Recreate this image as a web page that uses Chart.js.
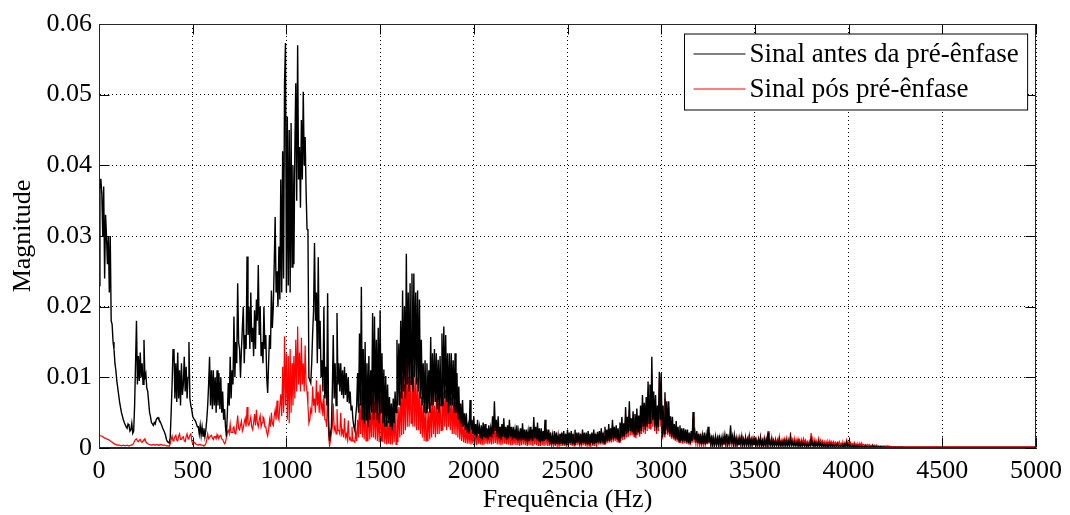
<!DOCTYPE html>
<html>
<head>
<meta charset="utf-8">
<script src="https://cdn.jsdelivr.net/npm/chart.js@4"></script>
<style>
html,body{margin:0;background:#fff}
canvas{display:block}
</style>
</head>
<body>
<canvas id="spectrum" width="1070" height="515"></canvas>
<script>
// spectrum sampled every 5 Hz, magnitudes in units of 1e-3 (one row = 100 Hz)
const STEP_HZ=5

const antesMilli=[
23,38,38,36,30,37,24,33,30,26,30,22,30,18,17.5,15,14,12,11,9.5,
8.5,7.5,6.5,5.7,5,4.5,4,3.6,3.3,3,2.8,3.4,3.2,2.4,2.6,3.5,2.1,2.4,6,12,
18,9,13,9.5,13.5,10,12,9,15.3,10,10.5,8.5,8,6.5,5,4.4,3.6,3.4,3.2,3.6,
3.4,4,4.2,4.3,4,3.8,3.5,3.2,2.8,2.5,2.2,1.8,1.2,0.9,0.8,0.7,1.5,5,9,13.9,
14,7,12,6.5,13.5,7,11,6,12,7.5,9,12.9,8,11.5,7,10,15,7,6,5.4,
4.5,4.2,4,3.8,3.4,3,3,2,3.2,1.8,3,1.7,2.8,1.6,2.5,4,6,9,12.9,6,
11,5.5,11,6,10,5,11,6,10.6,5.5,10,5,8,4,5.5,3,1.6,5,9.2,6,
12.9,7,11,9,18.6,10,15,12,23.3,15,14,10,13.9,17,20,12,16,14,27.1,16,
20,14,22,15,17,13,19.5,14,21,18,25.9,16,20,13,15,12,20,14,16,10,
7.8,12,16,14,22.3,17,20,26,32.7,22,25,20,28.5,21,38,22,42,24,51.6,57.3,
22,46.9,23,45,22,46,25.6,40,26,42,51.6,35,57,38,42.6,34,46.4,38,50.4,40,
44,36.5,31,30.8,10,9.6,9.2,12,16.2,19.5,29,18,22,12,27,14,18,10,12.4,8,
20,7,11.5,6,21.9,4,1,2,3,8,16,7,12,6,19.1,9,12,8,12,7.5,
11,7,11.5,7.5,10.6,6.5,10,6.3,8,5.4,6,4,3,2.5,4.5,6,10.6,5,16.2,6,
22.8,4,14,3.5,15,4,12,3,13,4,11,5,19.1,4,18.6,5,15.3,4,17,3.5,
19.5,5,13.4,3.5,11.1,3,10.2,3,9,3.5,7.2,3,6.3,2.5,7,3.5,8,5,15.3,6,
14.8,6,18,7,22.3,8,20,7,27.5,9,22,8,23.3,9,24.7,8,24.7,10,22,9,
22.3,8,21,7,15.3,6,12,5,12.4,5,12,5.5,11,5,15.7,6,13.4,6,14,6.5,
13.4,5.5,12.5,5,13,6,16.2,6,17.2,7,16,6.5,13.4,5,13.4,6,13.4,6,12.4,5,
13.4,5,10.6,4,8.7,3.5,6.3,3,6.8,3,4.9,2.5,4.9,2.2,3.2,2,6.8,2.5,4,2,
4.5,1.8,3.4,1.5,4,2,3,1.4,3.2,1.2,3.6,1.5,3.4,1.4,2.8,1.2,3.2,1.6,2.8,1.5,
4.5,2,6.6,2.4,4,1.6,4.5,1.4,3,1.2,3.4,1.6,4.2,1.5,3,1.2,3.2,1.4,4,1.6,
3,1.2,3,1.4,2.6,1.2,3.2,1,2.4,1.2,2.8,1,3.5,1.2,2.6,1,2.6,1.2,2.4,1,
3,1.2,2.6,1,4.4,1.4,3,1.2,3.6,1,2.8,0.8,2.8,1,2.4,1,4,1.2,2.6,1,
2.6,0.6,2.2,0.5,1.8,0.6,2.4,0.4,2.2,0.6,1.8,0.5,2,0.6,2.2,0.5,2.4,0.5,2,0.4,
2.6,0.6,2.2,0.7,2.4,0.5,2,0.6,2.6,0.7,2.2,0.8,2.2,0.5,2,0.5,2.6,0.7,2.2,0.6,
2.2,0.5,2.4,0.6,2,0.7,2.2,0.5,2.6,0.6,2,0.7,2.3,0.8,2.4,0.7,2.8,0.8,2.2,0.7,
3,0.9,2.6,1,3.4,1,2.8,1.2,4,1.2,3,1.4,3.2,1.2,2.8,1,3.6,1.4,4.4,1.6,
3.5,1.6,5.8,2,4.4,2.2,6.6,2.4,4.2,2.2,5.2,2,4.8,1.8,5.6,2.2,4.6,2,6,2.4,
7.5,3,6.4,2.6,7.2,3,9.4,3.5,9,3.4,12.9,4,8,3,7.5,2.5,6,3,10.8,4,
10.6,1.5,6,2,7.9,2.5,6.6,2.2,6.6,2,4.5,1.6,4.4,1.5,3.4,1.2,3.8,1.2,3,1,
3.2,1,2.8,0.9,2.8,1,2.6,0.8,2.6,0.7,2.2,0.6,2.4,1,5.1,1.2,2.2,0.8,2.4,0.7,
2,0.6,2,0.5,1.8,0.6,2.2,0.5,1.8,0.6,3,0.8,1.6,0.5,1.8,0.4,1.4,0.5,1.6,0.5,
1.4,0.5,1.8,0.4,1.4,0.5,1.6,0.5,1.8,0.6,2,0.5,1.4,0.5,3.2,0.6,1.6,0.5,1.8,0.5,
1.4,0.4,1.2,0.4,1.4,0.5,1.6,0.4,1.2,0.4,1.4,0.5,1.2,0.4,1.6,0.4,1.2,0.4,1.2,0.4,
1.2,0.3,1,0.4,1.2,0.4,1.4,0.3,1,0.3,1.2,0.4,1.2,0.3,2.2,0.4,1,0.4,1.2,0.3,
1,0.3,1,0.4,0.9,0.3,1.2,0.3,0.8,0.3,0.9,0.3,1,0.3,1,0.3,0.9,0.3,1.5,0.4,
0.8,0.3,0.8,0.3,0.7,0.3,0.9,0.3,0.7,0.2,0.8,0.3,0.7,0.3,0.7,0.2,0.6,0.2,0.6,0.3,
1.2,0.3,0.6,0.2,0.8,0.3,0.6,0.2,0.9,0.3,0.6,0.2,0.6,0.2,0.5,0.2,0.5,0.2,0.5,0.2,
0.6,0.2,0.5,0.2,0.5,0.2,0.4,0.2,0.6,0.2,0.4,0.2,0.4,0.2,0.4,0.1,0.5,0.2,0.8,0.2,
0.4,0.2,0.4,0.1,0.3,0.1,0.4,0.1,0.3,0.1,0.3,0.1,0.3,0.1,0.3,0.1,0.2,0.1,0.3,0.1,
0.2,0.1,0.2,0.1,0.2,0.1,0.3,0.1,0.2,0.1,0.2,0.1,0.2,0.1,0.2,0.1,0.15,0.1,0.15,0.1,
0.1,0.08,0.1,0.08,0.1,0.08,0.1,0.08,0.1,0.08,0.1,0.08,0.1,0.08,0.1,0.08,0.1,0.08,0.1,0.08,
0.08,0.08,0.08,0.08,0.08,0.08,0.08,0.08,0.08,0.08,0.08,0.08,0.08,0.08,0.08,0.08,0.08,0.08,0.08,0.08,
0.08,0.08,0.08,0.08,0.08,0.08,0.08,0.08,0.08,0.08,0.08,0.08,0.08,0.08,0.08,0.08,0.08,0.08,0.08,0.08,
0.08,0.08,0.08,0.08,0.08,0.08,0.08,0.08,0.08,0.08,0.08,0.08,0.08,0.08,0.08,0.08,0.08,0.08,0.08,0.08,
0.08,0.08,0.08,0.08,0.08,0.08,0.08,0.08,0.08,0.08,0.08,0.08,0.08,0.08,0.08,0.08,0.08,0.08,0.08,0.08,
0.08,0.08,0.08,0.08,0.08,0.08,0.08,0.08,0.08,0.08,0.08,0.08,0.08,0.08,0.08,0.08,0.08,0.08,0.08,0.08,
0.08,0.08,0.08,0.08,0.08,0.08,0.08,0.08,0.08,0.08,0.08,0.08,0.08,0.08,0.08,0.08,0.08,0.08,0.08,0.08,
0.08,0.08,0.08,0.08,0.08,0.08,0.08,0.08,0.08,0.08,0.08,0.08,0.08,0.08,0.08,0.08,0.08,0.08,0.08,0.08,
0.08
]

const posMilli=[
1.8,1.8,1.7,1.7,1.6,1.5,1.4,1.4,1.3,1.2,1.2,1.1,1,0.9,0.8,0.7,0.6,0.55,0.5,0.45,
0.4,0.4,0.4,0.35,0.3,0.35,0.4,0.35,0.3,0.35,0.4,0.35,0.3,0.35,0.4,0.45,0.5,0.7,1,1.2,
1.3,1,0.9,1.1,1.2,0.9,0.8,1,1.2,1.3,0.9,0.7,0.6,0.55,0.5,0.45,0.4,0.45,0.5,0.45,
0.4,0.45,0.5,0.45,0.4,0.45,0.5,0.45,0.4,0.4,0.4,0.35,0.3,0.3,0.3,0.25,0.6,1.2,1.7,1,
1.2,1.6,1.8,1.1,1,1.7,2,1.2,1.2,1.5,1.6,1,0.9,1.6,2,1.3,1.4,1.8,2,1,
0.6,0.7,0.8,0.6,0.5,0.45,0.4,0.5,0.5,0.4,0.4,0.35,0.3,0.4,0.6,1.2,2,1.3,1.5,1.7,
1.8,1.4,1.2,1.6,1.6,1.3,1.9,1.5,1.4,1.7,1.8,1.3,1.2,0.9,0.6,0.8,1.5,2.2,2.5,2,
3.4,2.2,2.2,2.8,3,2.1,2,3.2,4.6,2.8,2.6,3.2,3.8,2.4,2.8,3.6,4.2,3,5.8,3.5,
3.2,3.8,4.4,3,2.6,3.6,4.8,3.2,5.4,3.5,3,4,4.6,3,3.6,4.4,4.2,3,3,2.2,
1.7,2.6,4,3,5,3.5,3.2,4.5,5.4,4,6.7,4.5,4,6,7.6,4.5,11.5,5,15.8,6,
13.4,4,13,3.5,14,5,12,6,13,7,15.3,8,17.2,9,13.5,8,15.6,9,12,8,
14.5,9,8,6,3.5,4,5.5,5,8.7,6,7,5,9.6,6,8,5,9,5.5,6.3,4.5,
7.5,4,4,3,8.3,2,0.3,1,2,3,6.3,2.5,3,2,5.5,2.5,2.5,2,5,2,
2.5,1.5,4.2,1.5,2,1.2,3.9,1.2,1.5,1,3,1,1,0.8,2.2,1,4,1.5,6.3,2,
8.3,1.5,6,1.2,6.5,1,5.5,1,6.3,1.2,5,1.5,7.5,1.5,6.5,1.2,7,1,5,0.8,
7.3,1,5.4,0.8,5.4,0.6,3.9,0.5,3.9,0.6,4.2,0.5,4.2,0.5,5,0.8,5.2,0.5,5.5,0.8,
5.8,1.5,8,1.8,10.1,2,9,2.5,12.4,3,10,3,10.1,3.5,11,3,11.7,3,10,2.5,
10,2.5,8,2,7.2,1.5,6,1,5.8,1,5.5,1,5.2,1.2,6.5,1.5,8.2,2,6,1.5,
7.2,2,6.3,2,6.3,2.5,7.5,2.5,8,3,8.2,2.5,8.7,3,7.2,2.5,7.2,2,6.5,2,
6.5,1.8,6.3,1.5,6.3,1.2,4.5,1,4,0.8,3,0.7,2.9,0.6,2.6,0.6,2.6,0.5,2.4,0.6,
2.6,0.5,2.4,0.4,2.5,0.6,2,0.5,2.2,0.4,2.4,0.5,2.8,0.6,2.2,0.5,2.4,0.6,2.2,0.5,
3,0.6,3.4,0.7,2.6,0.5,2.8,0.5,2,0.4,2.6,0.5,2.9,0.6,2.2,0.5,2.4,0.5,2.6,0.4,
2.2,0.4,2.2,0.5,2,0.4,2.6,0.4,1.8,0.3,2,0.4,2.8,0.5,2,0.4,2,0.3,1.8,0.4,
2.4,0.4,2,0.3,3,0.5,2.2,0.4,2.4,0.3,1.8,0.3,2,0.4,1.8,0.3,2.8,0.4,2,0.3,
1.8,0.3,1.6,0.3,1.4,0.4,1.8,0.3,1.6,0.3,1.4,0.2,1.5,0.3,1.6,0.3,1.8,0.3,1.5,0.2,
2,0.3,1.7,0.4,1.8,0.3,1.6,0.3,2,0.4,1.8,0.4,1.7,0.3,1.5,0.2,2,0.4,1.7,0.3,
1.6,0.2,1.8,0.3,1.5,0.4,1.7,0.3,2,0.3,1.6,0.4,1.8,0.5,1.9,0.5,2.2,0.5,1.8,0.5,
2.4,0.6,2.2,0.7,2.6,0.8,2.3,0.8,3.2,0.9,2.6,1,2.6,0.8,2.4,0.8,3,1,3.6,1.1,
3,1.2,4.6,1.5,3.6,1.6,5.4,1.8,3.6,1.8,4.2,1.6,4,1.4,4.6,1.8,3.8,1.6,5,2,
6.4,2.2,5.4,2,6,2.4,8,2.8,7.5,2.6,10.3,3,6.8,2.4,6.2,2,5,2.4,9.8,3,
9,1.2,5,1.6,7,2,5.6,1.8,5.8,1.6,3.8,1.3,3.6,1.2,2.8,1,3,0.9,2.5,0.8,
2.6,0.7,2.2,0.6,2.2,0.7,2,0.6,2,0.5,1.8,0.4,1.8,0.7,4.4,0.8,1.8,0.6,2,0.5,
1.6,0.4,1.6,0.4,1.4,0.4,1.8,0.4,1.5,0.5,2.6,0.6,1.3,0.4,1.4,0.3,1.1,0.4,1.2,0.4,
1.2,0.4,1.5,0.3,1.1,0.4,1.2,0.4,1.5,0.5,1.8,0.4,1.2,0.4,2.9,0.5,1.4,0.4,1.6,0.4,
1.3,0.4,1.4,0.4,1.4,0.5,1.8,0.4,1.2,0.3,1.6,0.5,1.3,0.4,1.9,0.4,1.2,0.4,1.4,0.4,
1.2,0.4,1.2,0.4,1.3,0.5,1.6,0.3,1.1,0.3,1.4,0.4,1.2,0.4,2.4,0.5,1.2,0.4,1.5,0.4,
1.1,0.4,1.3,0.5,1.2,0.5,1.6,0.5,1.1,0.4,1.2,0.5,1.3,0.6,1.4,0.5,1.2,0.5,2.2,0.6,
1.2,0.6,1.4,0.6,1.2,0.6,1.3,0.5,1.1,0.5,1.2,0.6,1.3,0.7,1.1,0.5,0.9,0.4,1,0.5,
2.1,0.6,1.1,0.5,1.2,0.5,1,0.4,1.3,0.5,1.1,0.6,1,0.5,0.9,0.4,0.9,0.5,0.9,0.5,
1,0.5,0.9,0.5,0.9,0.4,0.8,0.4,0.8,0.5,0.9,0.5,0.7,0.4,0.8,0.4,0.8,0.4,1.1,0.5,
0.8,0.4,0.8,0.4,0.6,0.3,0.8,0.4,0.6,0.3,0.6,0.3,0.7,0.3,0.7,0.3,0.5,0.3,0.5,0.3,
0.5,0.3,0.5,0.3,0.4,0.2,0.4,0.2,0.4,0.2,0.4,0.2,0.3,0.2,0.3,0.2,0.3,0.2,0.3,0.2,
0.3,0.2,0.3,0.2,0.25,0.15,0.2,0.15,0.2,0.15,0.2,0.15,0.2,0.15,0.15,0.15,0.2,0.15,0.15,0.15,
0.15,0.15,0.15,0.15,0.15,0.15,0.15,0.15,0.15,0.15,0.15,0.15,0.15,0.15,0.15,0.15,0.15,0.15,0.15,0.15,
0.15,0.15,0.15,0.15,0.15,0.15,0.15,0.15,0.15,0.15,0.15,0.15,0.15,0.15,0.15,0.15,0.15,0.15,0.15,0.15,
0.15,0.15,0.15,0.15,0.15,0.15,0.15,0.15,0.15,0.15,0.15,0.15,0.15,0.15,0.15,0.15,0.15,0.15,0.15,0.15,
0.15,0.15,0.15,0.15,0.15,0.15,0.15,0.15,0.15,0.15,0.15,0.15,0.15,0.15,0.15,0.15,0.15,0.15,0.15,0.15,
0.15,0.15,0.15,0.15,0.15,0.15,0.15,0.15,0.15,0.15,0.15,0.15,0.15,0.15,0.15,0.15,0.15,0.15,0.15,0.15,
0.15,0.15,0.15,0.15,0.15,0.15,0.15,0.15,0.15,0.15,0.15,0.15,0.15,0.15,0.15,0.15,0.15,0.15,0.15,0.15,
0.15,0.15,0.15,0.15,0.15,0.15,0.15,0.15,0.15,0.15,0.15,0.15,0.15,0.15,0.15,0.15,0.15,0.15,0.15,0.15,
0.15
]

const xTicks=[0,500,1000,1500,2000,2500,3000,3500,4000,4500,5000]
const yTicks=[0,0.01,0.02,0.03,0.04,0.05,0.06]
const seriesNames=["Sinal antes da pré-ênfase","Sinal pós pré-ênfase"]
const seriesColors=["#000000","#ff0000"]

const SERIF="'Liberation Serif','Times New Roman',serif"
Chart.defaults.font.family=SERIF
Chart.defaults.color="#000"

const toPoints=arr=>arr.map((v,i)=>({x:i*STEP_HZ,y:v/1000}))

// inward ticks on all four sides, closed box and the boxed legend
const matlabAxes={
id:"matlabAxes",
afterDraw(chart){
const {ctx,chartArea:a,scales:{x,y}}=chart
const L=a.left+0.5,R=a.right-0.5,T=a.top+0.5,B=a.bottom-0.5
const tick=10
ctx.save()
ctx.strokeStyle="#000"
ctx.lineWidth=1
ctx.beginPath()
xTicks.forEach(v=>{
const px=Math.round(x.getPixelForValue(v))+0.5
ctx.moveTo(px,B);ctx.lineTo(px,B-tick)
ctx.moveTo(px,T);ctx.lineTo(px,T+tick)
})
yTicks.forEach(v=>{
const py=Math.round(y.getPixelForValue(v))+0.5
ctx.moveTo(L,py);ctx.lineTo(L+tick,py)
ctx.moveTo(R,py);ctx.lineTo(R-tick,py)
})
ctx.stroke()
ctx.strokeStyle="#262626"
ctx.strokeRect(L,T,R-L,B-T)

// legend
ctx.font="27px "+SERIF
const lineLen=52,pad=9,gap=4,rowH=35
const textW=Math.max(...seriesNames.map(n=>ctx.measureText(n).width))
const w=pad+lineLen+gap+textW+pad
const h=76
const bx=Math.round(R-8-w)+0.5,by=Math.round(T+9)
ctx.fillStyle="#fff"
ctx.fillRect(bx,by,w,h)
ctx.strokeStyle="#000"
ctx.strokeRect(bx,by,w,h)
ctx.textBaseline="middle"
ctx.textAlign="left"
seriesNames.forEach((n,i)=>{
const cy=by+20+i*rowH
ctx.strokeStyle=seriesColors[i]
ctx.beginPath()
ctx.moveTo(bx+pad,cy);ctx.lineTo(bx+pad+lineLen,cy)
ctx.stroke()
ctx.fillStyle="#000"
ctx.fillText(n,bx+pad+lineLen+gap,cy+1)
})
ctx.restore()
}
}

new Chart(document.getElementById("spectrum"),{
type:"line",
data:{
datasets:[
{label:seriesNames[0],data:toPoints(antesMilli),borderColor:seriesColors[0],borderWidth:1.4},
{label:seriesNames[1],data:toPoints(posMilli),borderColor:seriesColors[1],borderWidth:1.2}
]
},
options:{
responsive:false,
animation:false,
events:[],
layout:{padding:{left:0,top:24,right:33,bottom:0}},
elements:{point:{radius:0},line:{tension:0}},
plugins:{legend:{display:false},tooltip:{enabled:false}},
scales:{
x:{
type:"linear",min:0,max:5000,
afterFit(s){s.height=67},
ticks:{stepSize:500,autoSkip:false,maxRotation:0,padding:8,font:{size:26},color:"#000",callback:v=>String(v)},
grid:{color:"#000",lineWidth:1,drawTicks:false},
border:{display:true,color:"#262626",dash:[1,3]},
title:{display:true,text:"Frequência (Hz)",font:{size:26,lineHeight:1},color:"#000",padding:{top:0,bottom:2}}
},
y:{
min:0,max:0.06,
afterFit(s){s.width=99},
ticks:{stepSize:0.01,autoSkip:false,padding:7,font:{size:26},color:"#000",callback:v=>v===0?"0":v.toFixed(2)},
grid:{color:"#000",lineWidth:1,drawTicks:false},
border:{display:true,color:"#262626",dash:[1,3]},
title:{display:true,text:"Magnitude",font:{size:26},color:"#000",padding:{top:8,bottom:0}}
}
}
},
plugins:[matlabAxes]
})
</script>
</body>
</html>
